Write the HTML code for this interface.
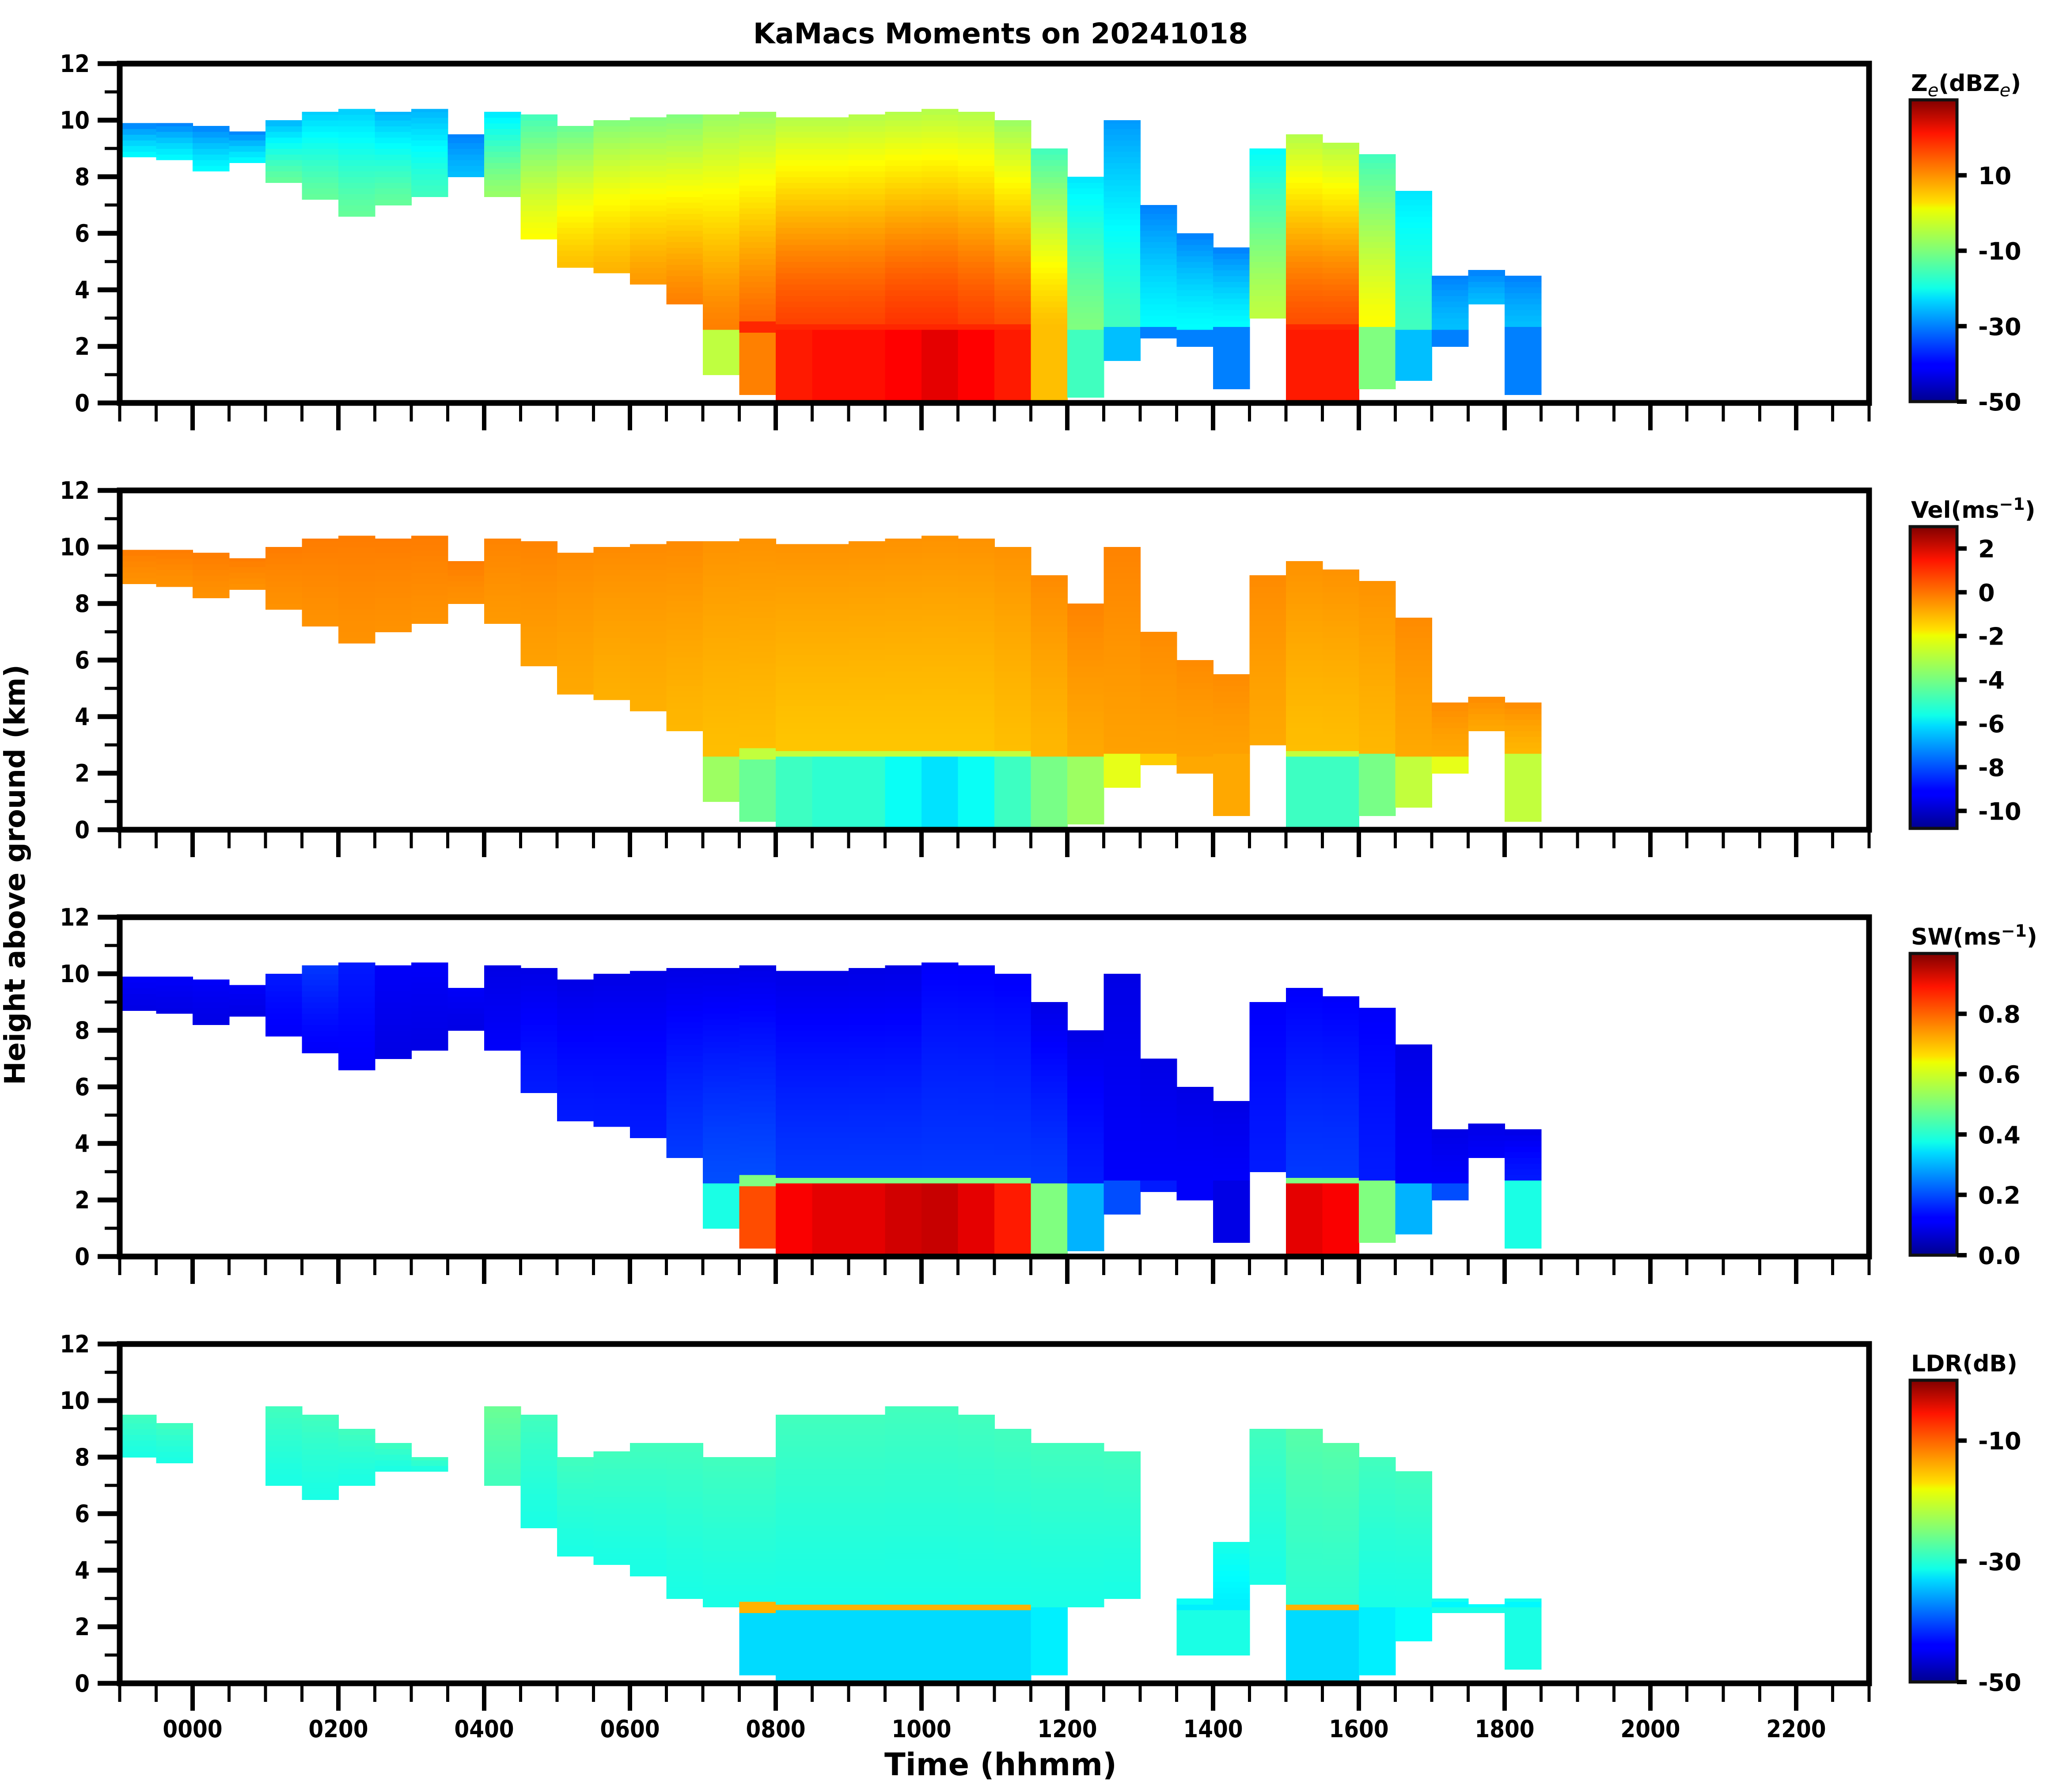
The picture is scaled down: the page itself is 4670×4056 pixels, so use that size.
<!DOCTYPE html>
<html><head><meta charset="utf-8"><style>
html,body{margin:0;padding:0;background:#fff;}
svg{display:block;}
.t{font-family:"DejaVu Sans","Liberation Sans",sans-serif;font-weight:bold;fill:#000;}
.c{font-family:"DejaVu Sans Condensed","DejaVu Sans","Liberation Sans Narrow",sans-serif;font-weight:bold;fill:#000;}
</style></head><body>
<svg id="fig" width="4670" height="4056" viewBox="0 0 4670 4056" xmlns="http://www.w3.org/2000/svg">
<defs>
<linearGradient id="jet" x1="0" y1="1" x2="0" y2="0">
<stop offset="0" stop-color="#00008f"/><stop offset="0.11" stop-color="#0000ff"/><stop offset="0.125" stop-color="#0000ff"/>
<stop offset="0.34" stop-color="#00dcff"/><stop offset="0.375" stop-color="#10ffe8"/><stop offset="0.5" stop-color="#7dff7a"/>
<stop offset="0.64" stop-color="#eeff00"/><stop offset="0.66" stop-color="#ffe000"/><stop offset="0.89" stop-color="#ff1400"/>
<stop offset="1" stop-color="#800000"/></linearGradient>
</defs>
<text class="t" x="2265" y="98" font-size="64" text-anchor="middle">KaMacs Moments on 20241018</text>
<text class="t" x="2265" y="4018" font-size="70" text-anchor="middle">Time (hhmm)</text>
<text class="t" x="56" y="1980" font-size="64" text-anchor="middle" transform="rotate(-90 56 1980)">Height above ground (km)</text>
<g id="panels"></g>
</svg>
<script>
// ---- data (half-hour bins starting at -1 h) ----
const binStart = -1;
const binWidthH = 0.5;
const cloudTop  = [9.9,9.9,9.8,9.6,10.0,10.3,10.4,10.3,10.4,9.5,10.3,10.2,9.8,10.0,10.1,10.2,10.2,10.3,10.1,10.1,10.2,10.3,10.4,10.3,10.0,9.0,8.0,10.0,7.0,6.0,5.5,9.0,9.5,9.2,8.8,7.5,4.5,4.7,4.5,0,0,0,0,0,0,0,0,0];
const cloudBase = [8.7,8.6,8.2,8.5,7.8,7.2,6.6,7.0,7.3,8.0,7.3,5.8,4.8,4.6,4.2,3.5,1.0,0.3,0,0,0,0,0,0,0,0,0.2,1.5,2.3,2.0,0.5,3.0,0,0,0.5,0.8,2.0,3.5,0.3,0,0,0,0,0,0,0,0,0];
const zeTop  = [-30,-30,-30,-30,-26,-24,-24,-26,-26,-30,-22,-15,-12,-10,-10,-10,-8,-8,-6,-6,-6,-6,-6,-6,-8,-15,-22,-28,-30,-30,-30,-20,-6,-6,-15,-22,-30,-30,-30,0,0,0,0,0,0,0,0,0];
const zeMid  = [-20,-20,-20,-20,-12,-12,-12,-12,-15,-25,-8,0,5,6,8,10,10,12,15,15,15,16,16,15,14,5,-10,-15,-20,-20,-20,-5,14,14,0,-15,-25,-25,-25,0,0,0,0,0,0,0,0,0];
const zeRain = [0,0,0,0,0,0,0,0,0,0,0,0,0,0,0,0,-5,10,18,19,19,20,22,20,18,5,-15,-25,-30,-30,-30,0,18,18,-10,-25,-30,-30,-30,0,0,0,0,0,0,0,0,0];
const velTop  = [-0.4,-0.4,-0.4,-0.4,-0.4,-0.4,-0.4,-0.4,-0.4,-0.4,-0.5,-0.5,-0.6,-0.6,-0.6,-0.6,-0.7,-0.7,-0.7,-0.7,-0.7,-0.7,-0.7,-0.7,-0.7,-0.6,-0.5,-0.5,-0.6,-0.6,-0.6,-0.6,-0.7,-0.7,-0.7,-0.6,-0.6,-0.6,-0.6,0,0,0,0,0,0,0,0,0];
const velMid  = [-0.7,-0.7,-0.7,-0.7,-0.7,-0.7,-0.7,-0.7,-0.7,-0.7,-0.8,-0.9,-1,-1.1,-1.1,-1.2,-1.3,-1.3,-1.4,-1.4,-1.4,-1.4,-1.4,-1.4,-1.3,-1.2,-1,-0.9,-0.9,-0.9,-0.9,-1,-1.3,-1.3,-1.2,-1,-1,-1,-1.2,0,0,0,0,0,0,0,0,0];
const velRain = [0,0,0,0,0,0,0,0,0,0,0,0,0,0,0,0,-3.5,-4.2,-4.8,-5,-5,-5.5,-6,-5.5,-4.8,-4,-3.5,-2.5,-1.5,-1,-1,0,-4.8,-4.8,-4,-3,-2.5,-2,-3,0,0,0,0,0,0,0,0,0];
const swTop  = [0.12,0.12,0.12,0.12,0.15,0.18,0.15,0.12,0.12,0.12,0.1,0.1,0.1,0.1,0.1,0.1,0.1,0.1,0.1,0.1,0.1,0.1,0.12,0.12,0.12,0.1,0.1,0.1,0.1,0.1,0.1,0.12,0.12,0.12,0.12,0.1,0.1,0.1,0.1,0,0,0,0,0,0,0,0,0];
const swMid  = [0.1,0.1,0.1,0.1,0.12,0.12,0.12,0.1,0.1,0.1,0.12,0.15,0.15,0.15,0.15,0.18,0.2,0.2,0.18,0.18,0.18,0.18,0.18,0.18,0.18,0.18,0.15,0.12,0.12,0.12,0.12,0.15,0.18,0.18,0.15,0.12,0.12,0.12,0.15,0,0,0,0,0,0,0,0,0];
const swRain = [0,0,0,0,0,0,0,0,0,0,0,0,0,0,0,0,0.4,0.8,0.88,0.9,0.9,0.92,0.93,0.9,0.85,0.5,0.3,0.2,0.15,0.12,0.1,0,0.9,0.88,0.5,0.3,0.2,0.15,0.4,0,0,0,0,0,0,0,0,0];
const ldrTop  = [9.5,9.2,0,0,9.8,9.5,9.0,8.5,8.0,0,9.8,9.5,8.0,8.2,8.5,8.5,8.0,8.0,9.5,9.5,9.5,9.8,9.8,9.5,9.0,8.5,8.5,8.2,0,3.0,5.0,9.0,9.0,8.5,8.0,7.5,3.0,2.8,3.0,0,0,0,0,0,0,0,0,0];
const ldrBase = [8.0,7.8,0,0,7.0,6.5,7.0,7.5,7.5,0,7.0,5.5,4.5,4.2,3.8,3.0,2.7,0.3,0,0,0,0,0,0,0,0.3,2.7,3.0,0,1.0,1.0,3.5,0,0,0.3,1.5,2.5,2.5,0.5,0,0,0,0,0,0,0,0,0];
const ldrValTop  = [-28,-28,0,0,-28,-28,-28,-28,-28,0,-26,-28,-28,-28,-28,-28,-28,-28,-28,-28,-28,-28,-28,-28,-28,-28,-28,-28,0,-30,-30,-28,-27,-27,-28,-28,-30,-30,-30,0,0,0,0,0,0,0,0,0];
const ldrValMid  = [-30,-30,0,0,-30,-30,-30,-30,-30,0,-28,-30,-30,-30,-30,-30,-30,-30,-30,-30,-30,-30,-30,-30,-30,-30,-30,-30,0,-32,-32,-30,-29,-29,-30,-30,-32,-32,-32,0,0,0,0,0,0,0,0,0];
const ldrValRain = [0,0,0,0,0,0,0,0,0,0,0,0,0,0,0,0,-32,-33,-33,-33,-33,-33,-33,-33,-33,-32,-32,0,0,-30,-30,0,-33,-33,-32,-31,-30,-30,-30,0,0,0,0,0,0,0,0,0];
const meltingLayerKm = 2.7;
const zeTicks = [10,-10,-30,-50];
const velTicks = [2,0,-2,-4,-6,-8,-10];
const swTicks = [0.0,0.2,0.4,0.6,0.8];
const ldrTicks = [-10,-30,-50];
const yTickLabels = [0,2,4,6,8,10,12];
const xTickLabels = ["0000","0200","0400","0600","0800","1000","1200","1400","1600","1800","2000","2200"];

// ---- layout ----
const X0 = 271, X1 = 4231, T0 = -1, T1 = 23;
const PANEL_TOPS = [144,1110,2076,3042], PH = 768;
const xs = t => X0 + (t - T0) / (T1 - T0) * (X1 - X0);
const NS = "http://www.w3.org/2000/svg";
const root = document.getElementById('panels');
function el(tag, attrs, parent){ const e=document.createElementNS(NS,tag); for(const k in attrs) e.setAttribute(k,attrs[k]); (parent||root).appendChild(e); return e; }
function jet(v){
  v=Math.max(0,Math.min(1,v));
  const r=Math.max(0,Math.min(1,1.5-Math.abs(4*v-3)));
  const g=Math.max(0,Math.min(1,1.5-Math.abs(4*v-2)));
  const b=Math.max(0,Math.min(1,1.5-Math.abs(4*v-1)));
  return `rgb(${Math.round(r*255)},${Math.round(g*255)},${Math.round(b*255)})`;
}
const panelDefs = [
  {name:'reflectivity', top:cloudTop, base:cloudBase, vTop:zeTop, vMid:zeMid, vRain:zeRain, ml:17, vmin:-50, vmax:30, ticks:zeTicks, fmt:v=>String(v), title:'Z<tspan dy="12" font-size="40" font-weight="normal" font-style="italic">e</tspan><tspan dy="-12">(dBZ</tspan><tspan dy="12" font-size="40" font-weight="normal" font-style="italic">e</tspan><tspan dy="-12">)</tspan>'},
  {name:'velocity', top:cloudTop, base:cloudBase, vTop:velTop, vMid:velMid, vRain:velRain, ml:-3, vmin:-10.8, vmax:3, ticks:velTicks, fmt:v=>String(v), title:'Vel(ms<tspan dy="-18" font-size="38">−1</tspan><tspan dy="18">)</tspan>'},
  {name:'spectrum-width', top:cloudTop, base:cloudBase, vTop:swTop, vMid:swMid, vRain:swRain, ml:0.5, vmin:0, vmax:1, ticks:swTicks, fmt:v=>v.toFixed(1), title:'SW(ms<tspan dy="-18" font-size="38">−1</tspan><tspan dy="18">)</tspan>'},
  {name:'ldr', top:ldrTop, base:ldrBase, vTop:ldrValTop, vMid:ldrValMid, vRain:ldrValRain, ml:-15, vmin:-50, vmax:0, ticks:ldrTicks, fmt:v=>String(v), title:'LDR(dB)'}
];
const ROW = 0.2;
panelDefs.forEach((p, pi) => {
  const top = PANEL_TOPS[pi], bot = top + PH;
  const ys = h => bot - h / 12 * PH;
  const g = el('g', {});
  
  
  const cells = el('g', {'shape-rendering':'crispEdges'}, g);
  
  
  const norm = v => (v - p.vmin) / (p.vmax - p.vmin);
  for (let i = 0; i < p.top.length; i++) {
    const ht = p.top[i]; if (!ht) continue;
    const hb = p.base[i];
    const t0 = binStart + i * binWidthH;
    const xa = xs(t0), xb = xs(t0 + binWidthH);
    const split = Math.max(hb, meltingLayerKm);
    for (let h = hb; h < ht - 1e-6; h += ROW) {
      const h2 = Math.min(ht, h + ROW);
      const hc = (h + h2) / 2;
      let val;
      if (hc < meltingLayerKm && p.vRain[i] !== 0) val = p.vRain[i];
      else if (hc < meltingLayerKm) val = p.vMid[i];
      else { const f = (ht - split) > 0 ? (hc - split) / (ht - split) : 0; val = p.vMid[i] + (p.vTop[i] - p.vMid[i]) * Math.pow(f, 1.3); }
      if (hb < meltingLayerKm - 0.1 && Math.abs(hc - meltingLayerKm) < 0.11 && p.vRain[i] !== 0 && i >= 17 && i <= 24 || (i>=32 && i<=33 && Math.abs(hc - meltingLayerKm) < 0.11)) val = p.ml;
      const r = el('rect', {x:xa.toFixed(1), y:ys(h2).toFixed(1), width:(xb-xa+1).toFixed(1), height:(ys(h)-ys(h2)+1).toFixed(1), fill:jet(norm(val))}, cells);
      
      
    }
  }
  const fr = el('rect', {x:X0, y:top, width:X1-X0, height:PH, fill:'none', stroke:'#000', 'stroke-width':13}, g);
  
  
  for (let k = 0; k <= 12; k++) {
    const major = k % 2 === 0;
    const tk = el('line', {x1:X0 - (major?50:34), x2:X0, y1:ys(k), y2:ys(k), stroke:'#000', 'stroke-width':major?11:7}, g);
    
    
  }
  yTickLabels.forEach(v => {
    const tx = el('text', {x:203, y:ys(v) + 19, 'font-size':54, 'text-anchor':'end', class:'c'}, g);
    tx.textContent = String(v);
    
    
  });
  for (let t = -1; t <= 23.001; t += 0.5) {
    const major = Math.abs(t/2 - Math.round(t/2)) < 1e-6;
    const tk = el('line', {x1:xs(t), x2:xs(t), y1:bot, y2:bot + (major?62:42), stroke:'#000', 'stroke-width':major?10:7}, g);
    
    
  }
  if (pi === 3) {
    xTickLabels.forEach((lab, j) => {
      const tx = el('text', {x:xs(j*2), y:3932, 'font-size':54, 'text-anchor':'middle', class:'c'}, g);
      tx.textContent = lab;
      
      
    });
  }
  const cbT = top + 82, cbB = bot - 3, cbX = 4324, cbW = 106;
  const cbs = v => cbB - (v - p.vmin) / (p.vmax - p.vmin) * (cbB - cbT);
  const cb = el('rect', {x:cbX, y:cbT, width:cbW, height:cbB-cbT, fill:'url(#jet)', stroke:'#111', 'stroke-width':7}, g);
  
  
  p.ticks.forEach(v => {
    const tk = el('line', {x1:cbX+cbW, x2:cbX+cbW+22, y1:cbs(v), y2:cbs(v), stroke:'#000', 'stroke-width':10}, g);
    
    
    const tx = el('text', {x:4478, y:cbs(v)+20, 'font-size':54, class:'t'}, g);
    tx.textContent = p.fmt(v);
    
    
  });
  const tt = el('text', {x:4326, y:top + 62, 'font-size':52, class:'t'}, g);
  tt.innerHTML = p.title;
  
  
});
</script>
</body></html>
